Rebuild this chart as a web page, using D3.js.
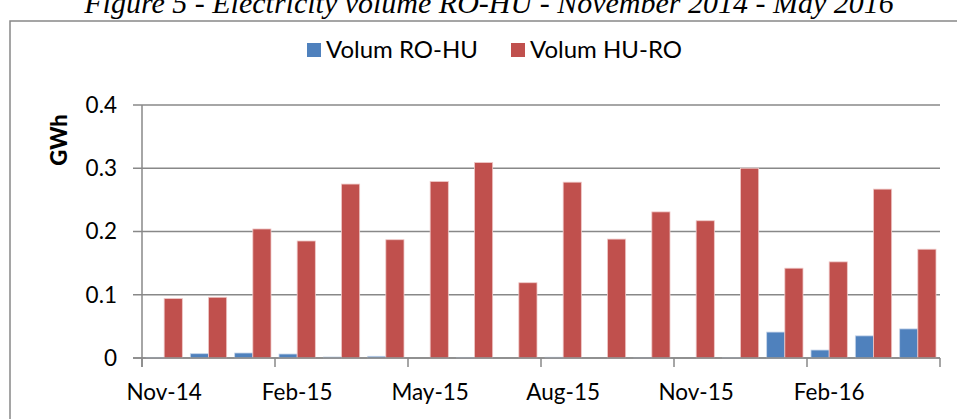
<!DOCTYPE html>
<html>
<head>
<meta charset="utf-8">
<script src="https://cdn.jsdelivr.net/npm/d3@7"></script>
<style>
	html, body { margin: 0; padding: 0; background: #fff; overflow: hidden; }
	svg { display: block; }
	.tick-label { font-family: Lato, "Open Sans", sans-serif; font-size: 22.5px; fill: #000; }
	.legend-label { font-family: Lato, "Open Sans", sans-serif; font-size: 24px; fill: #000; }
</style>
</head>
<body>
<svg id="chart" width="957" height="419"></svg>
<script>
// categories (one per month)
const months = ['Nov-14', 'Dec-14', 'Jan-15', 'Feb-15', 'Mar-15', 'Apr-15', 'May-15', 'Jun-15', 'Jul-15',
	'Aug-15', 'Sep-15', 'Oct-15', 'Nov-15', 'Dec-15', 'Jan-16', 'Feb-16', 'Mar-16', 'Apr-16'];

// series values, GWh
const volumRoHu = [0.001, 0.0068, 0.0079, 0.0063, 0.0016, 0.0027, 0, 0.001, 0, 0.0012, 0, 0.0003,
	0, 0.0008, 0.041, 0.0126, 0.035, 0.046];
const volumHuRo = [0.094, 0.096, 0.204, 0.185, 0.275, 0.187, 0.279, 0.309, 0.119, 0.278, 0.188, 0.231,
	0.217, 0.300, 0.142, 0.152, 0.267, 0.172];

const seriesNames = ['Volum RO-HU', 'Volum HU-RO'];
const yTicks = [0, 0.1, 0.2, 0.3, 0.4];
const xLabels = ['Nov-14', 'Feb-15', 'May-15', 'Aug-15', 'Nov-15', 'Feb-16'];

const title = 'Figure 5 - Electricity volume RO-HU - November 2014 - May 2016';
const colors = ['#4F81BD', '#C0504D'];

const svg = d3.select('#chart');
const gridColor = '#888888';

// plot area
const plot = { left: 142, right: 940, top: 105, bottom: 358 };

// title, its top runs off the page like in the scanned figure
svg.append('text')
	.attr('x', 489)
	.attr('y', 13)
	.attr('text-anchor', 'middle')
	.attr('font-family', '"Liberation Serif", "Times New Roman", serif')
	.attr('font-style', 'italic')
	.attr('font-size', 30)
	.text(title);

// outer chart frame (runs off the right and bottom edges)
svg.append('rect')
	.attr('x', 10)
	.attr('y', 21)
	.attr('width', 1000)
	.attr('height', 500)
	.attr('fill', 'none')
	.attr('stroke', gridColor)
	.attr('stroke-width', 1.5);

// scales
const x = d3.scaleBand()
	.domain(months)
	.range([plot.left, plot.right])
	.padding(0);

const xSeries = d3.scaleBand()
	.domain(seriesNames)
	.range([4, x.bandwidth() - 4])
	.padding(0);

const y = d3.scaleLinear()
	.domain([0, 0.4])
	.range([plot.bottom, plot.top]);

// gridlines with the little outside ticks on the left
svg.append('g')
	.selectAll('line')
	.data(yTicks)
	.enter()
	.append('line')
		.attr('x1', plot.left - 9)
		.attr('x2', plot.right)
		.attr('y1', d => y(d))
		.attr('y2', d => y(d))
		.attr('stroke', gridColor)
		.attr('stroke-width', 1.5);

// y tick labels
svg.append('g')
	.selectAll('text')
	.data(yTicks)
	.enter()
	.append('text')
		.classed('tick-label', true)
		.attr('x', plot.left - 25)
		.attr('y', d => y(d))
		.attr('dy', '0.35em')
		.attr('text-anchor', 'end')
		.text(d => d === 0 ? '0' : d3.format('.1f')(d));

// y axis title
svg.append('text')
	.attr('transform', `translate(67, 140) rotate(-90)`)
	.attr('text-anchor', 'middle')
	.attr('font-family', 'Lato, "Open Sans", sans-serif')
	.attr('font-weight', 900)
	.attr('font-size', 22)
	.text('GWh');

// bars
const groups = svg.append('g')
	.selectAll('.month')
	.data(months)
	.enter()
	.append('g')
		.classed('month', true)
		.attr('transform', d => `translate(${x(d)}, 0)`);

groups.selectAll('rect')
	.data((d, i) => [
		{ key: seriesNames[0], value: volumRoHu[i] },
		{ key: seriesNames[1], value: volumHuRo[i] }
	])
	.enter()
	.append('rect')
		.attr('x', d => xSeries(d.key))
		.attr('y', d => y(d.value))
		.attr('width', xSeries.bandwidth())
		.attr('height', d => y(0) - y(d.value))
		.attr('fill', (d, i) => colors[i])
		.attr('stroke', (d, i) => i === 1 ? '#efc9c8' : '#c6d5ea')
		.attr('stroke-width', 0.8);

// y axis line
svg.append('line')
	.attr('x1', plot.left)
	.attr('x2', plot.left)
	.attr('y1', plot.top)
	.attr('y2', plot.bottom + 9)
	.attr('stroke', gridColor)
	.attr('stroke-width', 1.5);

// x axis line + ticks every 3 months
svg.append('line')
	.attr('x1', plot.left - 9)
	.attr('x2', plot.right)
	.attr('y1', plot.bottom)
	.attr('y2', plot.bottom)
	.attr('stroke', gridColor)
	.attr('stroke-width', 1.5);

const tickPositions = d3.range(0, months.length + 1, 3)
	.map(i => i < months.length ? x(months[i]) : plot.right);

svg.append('g')
	.selectAll('line')
	.data(tickPositions)
	.enter()
	.append('line')
		.attr('x1', d => d)
		.attr('x2', d => d)
		.attr('y1', plot.bottom)
		.attr('y2', plot.bottom + 9)
		.attr('stroke', gridColor)
		.attr('stroke-width', 1.5);

// x tick labels
svg.append('g')
	.selectAll('text')
	.data(xLabels)
	.enter()
	.append('text')
		.classed('tick-label', true)
		.attr('x', d => x(d) + x.bandwidth() / 2)
		.attr('y', 400)
		.attr('text-anchor', 'middle')
		.text(d => d);

// legend
const legend = svg.append('g')
	.attr('transform', 'translate(307, 50)');

const legendItems = legend.selectAll('.item')
	.data(seriesNames)
	.enter()
	.append('g')
		.classed('item', true)
		.attr('transform', (d, i) => `translate(${i * 204}, 0)`);

legendItems.append('rect')
	.attr('x', 0)
	.attr('y', -7)
	.attr('width', 14)
	.attr('height', 14)
	.attr('fill', (d, i) => colors[i]);

legendItems.append('text')
	.classed('legend-label', true)
	.attr('x', 19)
	.attr('dy', '0.35em')
	.text(d => d);
</script>
</body>
</html>
